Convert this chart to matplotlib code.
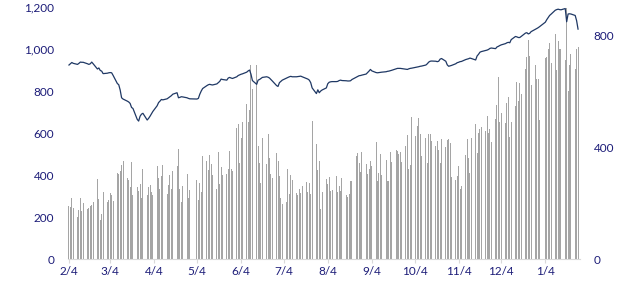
import pandas as pd
import matplotlib
matplotlib.use('Agg')
import matplotlib.pyplot as plt

# trading days, weekdays minus the closed days seen as gaps
holidays = ['2020-04-30', '2020-05-01', '2021-01-01']
start = '2020-02-04'
end = '2021-01-27'

# left axis: index level (line)
price = [
    924, 930, 936, 932, 927, 932, 938, 937, 937, 930, 927, 930, 938, 930, 905, 910, 898, 895, 883,  # feb
    885, 887, 888, 887, 875, 836, 830, 805, 768, 762, 752, 748, 741, 722, 717, 665, 657, 680, 690, 694,
    662, 670,  # mar
    680, 692, 703, 730, 745, 752, 760, 758, 763, 768, 773, 778, 785, 792, 768, 770, 773, 772, 768, 765,
    763,  # apr
    762, 765, 785, 800, 812, 826, 830, 832, 830, 829, 834, 840, 846, 857, 855, 852, 862, 865, 862, 860,  # may
    868, 874, 877, 880, 882, 890, 896, 900, 880, 850, 832, 852, 855, 860, 865, 868, 866, 862, 855, 848,
    826, 822,  # jun
    840, 846, 852, 862, 865, 868, 870, 868, 868, 869, 870, 871, 868, 860, 857, 852, 840, 815, 788, 806,
    792, 800, 805,  # jul
    815, 835, 842, 844, 845, 845, 846, 850, 852, 850, 849, 848, 848, 849, 855, 866, 870, 873, 874, 876,
    881,  # aug
    888, 895, 903, 896, 888, 887, 888, 889, 890, 892, 894, 895, 897, 899, 906, 908, 908, 908, 907, 904,
    903, 906,  # sep
    908, 909, 913, 914, 916, 918, 919, 924, 930, 938, 942, 943, 942, 940, 942, 952, 955, 942, 925, 918,
    920, 922,  # oct
    930, 935, 937, 940, 941, 950, 952, 954, 957, 955, 948, 967, 975, 985, 988, 993, 995, 998, 1003, 1005,
    1002,  # nov
    1010, 1013, 1017, 1020, 1026, 1030, 1032, 1030, 1045, 1060, 1058, 1055, 1055, 1060, 1076, 1078, 1072,
    1075, 1083, 1094, 1098, 1102, 1107,  # dec
    1128, 1140, 1150, 1160, 1166, 1185, 1188, 1190, 1188, 1187, 1193, 1130, 1167, 1168, 1167, 1160, 1135,
    1095,  # jan
]

# right axis: turnover (bars)
volume = [
    189, 185, 218, 181, 151, 175, 219, 171, 199, 178, 183, 189, 194, 203, 286, 214, 139, 161, 239,  # feb
    205, 211, 237, 228, 207, 307, 302, 313, 336, 350, 289, 282, 258, 348, 229, 258, 243, 267, 219, 321,
    228, 256,  # mar
    264, 240, 228, 332, 290, 250, 296, 337, 232, 264, 301, 250, 315, 332, 393, 249, 205, 260, 305, 219,
    246,  # apr
    282, 211, 273, 238, 369, 350, 318, 371, 338, 301, 250, 382, 267, 330, 300, 303, 321, 386, 322, 314,  # may
    469, 481, 343, 431, 489, 553, 490, 532, 693, 607, 693, 405, 344, 273, 433, 338, 446, 361, 305, 290,
    378, 350,  # jun
    298, 219, 196, 205, 321, 231, 300, 281, 237, 228, 250, 237, 262, 275, 239, 271, 232, 493, 411, 318,
    350, 178, 239,  # jul
    286, 268, 292, 243, 246, 296, 239, 261, 243, 288, 228, 220, 232, 278, 278, 368, 377, 343, 311, 381,
    339,  # aug
    303, 320, 351, 332, 417, 278, 308, 374, 300, 353, 278, 278, 383, 345, 389, 386, 375, 382, 345, 403,
    443, 321,  # sep
    336, 508, 439, 475, 505, 445, 369, 431, 342, 446, 446, 421, 405, 421, 388, 343, 427, 400, 424, 427,
    415, 294,  # oct
    282, 298, 333, 250, 260, 371, 430, 362, 309, 433, 482, 378, 449, 463, 471, 457, 511, 449, 465, 418,
    501,  # nov
    550, 650, 488, 520, 487, 556, 577, 436, 488, 546, 632, 563, 630, 589, 680, 722, 782, 725, 621, 693,
    644, 644, 496,  # dec
    719, 722, 750, 770, 700, 804, 675, 778, 750, 750, 710, 895, 600, 693, 732, 680, 752, 757,  # jan
]

tick_dates = ['2020-02-04', '2020-03-04', '2020-04-04', '2020-05-04', '2020-06-04', '2020-07-04',
              '2020-08-04', '2020-09-04', '2020-10-04', '2020-11-04', '2020-12-04', '2021-01-04']
tick_labels = ['2/4', '3/4', '4/4', '5/4', '6/4', '7/4', '8/4', '9/4', '10/4', '11/4', '12/4', '1/4']
left_ticks = [0, 200, 400, 600, 800, 1000, 1200]
right_ticks = [0, 400, 800]

dates = pd.bdate_range(start, end)
dates = dates[~dates.isin(pd.to_datetime(holidays))]
assert len(dates) == len(price) == len(volume)

text_col = '#1c1c78'
plt.rcParams['font.family'] = ['Lato', 'DejaVu Sans']

fig = plt.figure(figsize=(6.22, 3.01), dpi=100)
ax = fig.add_axes([0.1093, 0.1395, 0.823, 0.837])
ax2 = ax.twinx()

# bars on the first axes so the line sits on top
ax.bar(dates, volume, width=0.7, color='#a5a5a5', linewidth=0, antialiased=False)
ax.set_ylim(0, 900)
ax.yaxis.tick_right()
ax.set_yticks(right_ticks)
ax.set_yticklabels([f'{v:,}' for v in right_ticks])

ax2.plot(dates, price, color='#1f3864', lw=0.9)
ax2.set_ylim(0, 1200)
ax2.yaxis.tick_left()
ax2.set_yticks(left_ticks)
ax2.set_yticklabels([f'{v:,}' for v in left_ticks])

t0 = pd.Timestamp(start)
ax.set_xlim(t0 - pd.Timedelta(days=0.7), t0 + pd.Timedelta(days=359.3))
ax.set_xticks(pd.to_datetime(tick_dates))
ax.set_xticklabels(tick_labels)

for a in (ax, ax2):
    for s in a.spines.values():
        s.set_visible(False)
    a.tick_params(axis='y', length=0, pad=10, labelsize=8.5, labelcolor=text_col)
ax.spines['bottom'].set_visible(True)
ax.spines['bottom'].set_color('#d9d9d9')
ax.tick_params(axis='x', length=3, color='#d9d9d9', labelsize=8.5, labelcolor=text_col, pad=2)

fig.savefig('out.png', dpi=100)
